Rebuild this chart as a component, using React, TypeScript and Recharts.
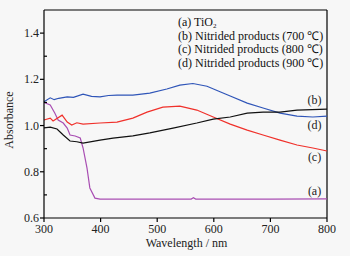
import { Line, LineChart, ReferenceDot, ReferenceLine, XAxis, YAxis } from 'recharts';

type Pt = { w: number; v: number };

// (a) TiO2
const tio2: Pt[] = [
  { w: 300, v: 1.1 }, { w: 311, v: 1.089 }, { w: 319, v: 1.054 }, { w: 325, v: 1.024 },
  { w: 334, v: 1.011 }, { w: 341, v: 0.989 }, { w: 346, v: 0.959 }, { w: 355, v: 0.955 },
  { w: 364, v: 0.946 }, { w: 369, v: 0.903 }, { w: 376, v: 0.816 }, { w: 381, v: 0.73 },
  { w: 390, v: 0.686 }, { w: 399, v: 0.682 }, { w: 500, v: 0.682 }, { w: 560, v: 0.682 },
  { w: 564, v: 0.688 }, { w: 568, v: 0.682 }, { w: 700, v: 0.682 }, { w: 800, v: 0.683 },
];

// (b) 700 ℃
const n700: Pt[] = [
  { w: 300, v: 1.103 }, { w: 311, v: 1.12 }, { w: 318, v: 1.112 }, { w: 326, v: 1.118 },
  { w: 341, v: 1.124 }, { w: 352, v: 1.122 }, { w: 369, v: 1.136 }, { w: 384, v: 1.126 },
  { w: 399, v: 1.124 }, { w: 414, v: 1.13 }, { w: 429, v: 1.132 }, { w: 457, v: 1.132 },
  { w: 487, v: 1.14 }, { w: 517, v: 1.158 }, { w: 540, v: 1.175 }, { w: 563, v: 1.182 },
  { w: 588, v: 1.17 }, { w: 611, v: 1.146 }, { w: 629, v: 1.128 }, { w: 659, v: 1.097 },
  { w: 687, v: 1.076 }, { w: 717, v: 1.054 }, { w: 747, v: 1.041 }, { w: 775, v: 1.037 },
  { w: 800, v: 1.041 },
];

// (c) 800 ℃
const n800: Pt[] = [
  { w: 300, v: 1.024 }, { w: 311, v: 1.032 }, { w: 316, v: 1.02 }, { w: 332, v: 1.045 },
  { w: 341, v: 1.015 }, { w: 349, v: 1.002 }, { w: 358, v: 1.012 }, { w: 369, v: 1.006 },
  { w: 399, v: 1.011 }, { w: 429, v: 1.015 }, { w: 457, v: 1.032 }, { w: 482, v: 1.058 },
  { w: 510, v: 1.08 }, { w: 540, v: 1.084 }, { w: 570, v: 1.067 }, { w: 599, v: 1.037 },
  { w: 629, v: 1.006 }, { w: 659, v: 0.98 }, { w: 687, v: 0.959 }, { w: 717, v: 0.937 },
  { w: 747, v: 0.916 }, { w: 775, v: 0.903 }, { w: 800, v: 0.89 },
];

// (d) 900 ℃
const n900: Pt[] = [
  { w: 300, v: 0.99 }, { w: 311, v: 0.993 }, { w: 323, v: 0.985 }, { w: 334, v: 0.959 },
  { w: 346, v: 0.933 }, { w: 358, v: 0.93 }, { w: 369, v: 0.924 }, { w: 399, v: 0.937 },
  { w: 422, v: 0.946 }, { w: 457, v: 0.955 }, { w: 487, v: 0.968 }, { w: 528, v: 0.989 },
  { w: 570, v: 1.011 }, { w: 599, v: 1.028 }, { w: 629, v: 1.037 }, { w: 659, v: 1.054 },
  { w: 687, v: 1.058 }, { w: 717, v: 1.058 }, { w: 747, v: 1.067 }, { w: 800, v: 1.071 },
];

const xTicks = [300, 350, 400, 450, 500, 550, 600, 650, 700, 750, 800];
const yTicks = [0.6, 0.7, 0.8, 0.9, 1.0, 1.1, 1.2, 1.3, 1.4];

const legendLines = ['(a) TiO', '(b) Nitrided products (700 ℃)', '(c) Nitrided products (800 ℃)', '(d) Nitrided products (900 ℃)'];
const curveTags = ['(a)', '(b)', '(c)', '(d)'];
const tagSpots = [
  { w: 778, v: 0.717 },
  { w: 778, v: 1.111 },
  { w: 778, v: 0.864 },
  { w: 778, v: 1.002 },
];

const font = "'Liberation Serif', 'Times New Roman', Times, serif";

function XTick(props: any) {
  const { x, y, payload } = props;
  const major = payload.value % 100 === 0;
  return (
    <g>
      <line x1={x} x2={x} y1={y} y2={major ? y + 4 : y - 3} stroke="#000" strokeWidth={1.2} />
      {major && (
        <text x={x} y={y + 15} textAnchor="middle" fontSize={12} style={{ fontFamily: font }} fill="#222">
          {payload.value}
        </text>
      )}
    </g>
  );
}

function YTick(props: any) {
  const { x, y, payload } = props;
  const major = Math.round(payload.value * 10) % 2 === 0;
  return (
    <g>
      <line x1={x} x2={major ? x - 4 : x + 3} y1={y} y2={y} stroke="#000" strokeWidth={1.2} />
      {major && (
        <text x={x - 5} y={y + 4} textAnchor="end" fontSize={12} style={{ fontFamily: font }} fill="#222">
          {payload.value.toFixed(1)}
        </text>
      )}
    </g>
  );
}

function LegendBox() {
  return (
    <div
      style={{
        position: 'absolute',
        left: 178,
        top: 16,
        fontFamily: font,
        fontSize: 12,
        lineHeight: '13.7px',
        color: '#111',
        pointerEvents: 'none',
      }}
    >
      {legendLines.map((t, i) => (
        <div key={i} style={{ whiteSpace: 'nowrap', height: 13.7 }}>
          {t}
          {i === 0 && <span style={{ fontSize: 7, lineHeight: '7px', position: 'relative', top: 2 }}>2</span>}
        </div>
      ))}
    </div>
  );
}

export default function App() {
  return (
    <div style={{ position: 'fixed', left: 0, top: 0, width: 350, height: 256, background: '#f7f7f7', fontFamily: font }}>
      <LineChart width={350} height={256} margin={{ top: 10, right: 23, left: 0, bottom: 8 }} style={{ fontFamily: font }}>
        <XAxis
          type="number"
          dataKey="w"
          domain={[300, 800]}
          ticks={xTicks}
          tick={<XTick />}
          tickLine={false}
          tickSize={0}
          tickMargin={0}
          height={30}
          stroke="#000"
          strokeWidth={1.2}
          allowDuplicatedCategory={false}
          label={{ value: 'Wavelength / nm', position: 'insideBottom', offset: 1, fontSize: 12, fill: '#222', dx: 1 }}
        />
        <YAxis
          type="number"
          dataKey="v"
          domain={[0.6, 1.5]}
          ticks={yTicks}
          tick={<YTick />}
          tickLine={false}
          tickSize={0}
          tickMargin={0}
          width={44}
          stroke="#000"
          strokeWidth={1.2}
          allowDataOverflow
          label={{ value: 'Absorbance', angle: -90, position: 'insideLeft', offset: 9, fontSize: 12, fill: '#222', dy: 6, style: { textAnchor: 'middle' } }}
        />
        <ReferenceLine x={800} stroke="#000" strokeWidth={1.2} />
        <ReferenceLine y={1.5} stroke="#000" strokeWidth={1.2} />
        <Line data={tio2} dataKey="v" stroke="#a94fb3" strokeWidth={1.2} dot={false} isAnimationActive={false} />
        <Line data={n700} dataKey="v" stroke="#2f55b8" strokeWidth={1.2} dot={false} isAnimationActive={false} />
        <Line data={n800} dataKey="v" stroke="#f0312b" strokeWidth={1.2} dot={false} isAnimationActive={false} />
        <Line data={n900} dataKey="v" stroke="#111111" strokeWidth={1.2} dot={false} isAnimationActive={false} />
        {tagSpots.map((s, i) => (
          <ReferenceDot
            key={i}
            x={s.w}
            y={s.v}
            r={0}
            fill="none"
            stroke="none"
            label={{ value: curveTags[i], position: 'center', fontSize: 12, fill: '#222' }}
          />
        ))}
      </LineChart>
      <LegendBox />
    </div>
  );
}
